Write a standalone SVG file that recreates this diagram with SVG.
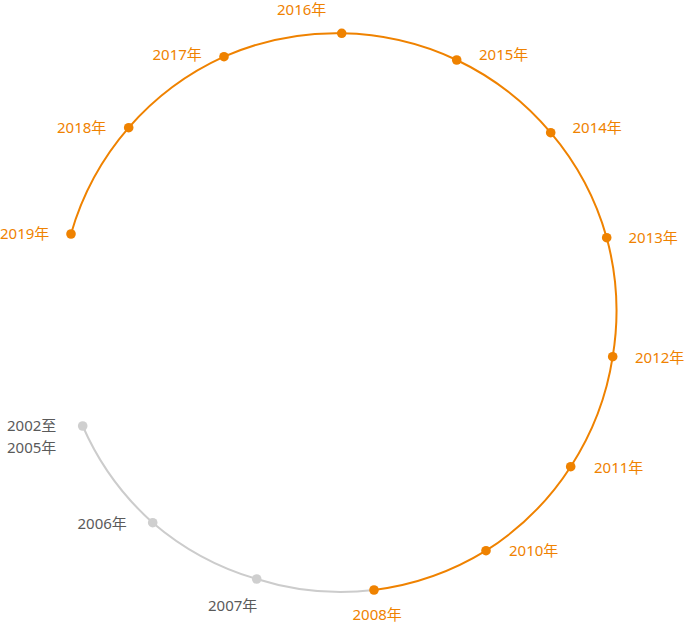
<svg xmlns="http://www.w3.org/2000/svg" width="685" height="624" viewBox="0 0 685 624">
<style>
text{font-family:"Noto Sans","Noto Sans CJK SC",sans-serif;font-size:15px}
.o text{fill:#EF8200}
.g text{fill:#5a5a5a}
.o circle{fill:#EF8200}
.g circle{fill:#CFCFCF}
.lo{fill:none;stroke:#EF8200;stroke-width:2}
.lg{fill:none;stroke:#CCCCCC;stroke-width:2}
</style>
<rect width="685" height="624" fill="#fff"/>
<g id="connectors">
<path class="lo" d="M71 234 A279 279 0 0 1 128.7 127.7 A279 279 0 0 1 224 56.7 A279 279 0 0 1 341.7 33.3 A279 279 0 0 1 456.7 60 A279 279 0 0 1 550.7 132.7 A279 279 0 0 1 606.7 237.7 A279 279 0 0 1 612.7 356.7 A279 279 0 0 1 570.7 466.7 A279 279 0 0 1 486 550.7 A279 279 0 0 1 374 590"/>
<path class="lg" d="M374 590 A279 279 0 0 1 256.7 579 A279 279 0 0 1 152.7 522.7 A279 279 0 0 1 82.7 426"/>
</g>
<g id="n2019" class="o"><circle cx="71" cy="234" r="4.8"/><text x="0" y="239">2019年</text></g>
<g id="n2018" class="o"><circle cx="128.7" cy="127.7" r="4.8"/><text x="57" y="133">2018年</text></g>
<g id="n2017" class="o"><circle cx="224" cy="56.7" r="4.8"/><text x="152.5" y="60">2017年</text></g>
<g id="n2016" class="o"><circle cx="341.7" cy="33.3" r="4.8"/><text x="277" y="14.5">2016年</text></g>
<g id="n2015" class="o"><circle cx="456.7" cy="60" r="4.8"/><text x="479" y="60">2015年</text></g>
<g id="n2014" class="o"><circle cx="550.7" cy="132.7" r="4.8"/><text x="572.5" y="133">2014年</text></g>
<g id="n2013" class="o"><circle cx="606.7" cy="237.7" r="4.8"/><text x="628.5" y="243">2013年</text></g>
<g id="n2012" class="o"><circle cx="612.7" cy="356.7" r="4.8"/><text x="635" y="363">2012年</text></g>
<g id="n2011" class="o"><circle cx="570.7" cy="466.7" r="4.8"/><text x="594" y="472.5">2011年</text></g>
<g id="n2010" class="o"><circle cx="486" cy="550.7" r="4.8"/><text x="509" y="556">2010年</text></g>
<g id="n2008" class="o"><circle cx="374" cy="590" r="4.8"/><text x="352.5" y="619.5">2008年</text></g>
<g id="n2007" class="g"><circle cx="256.7" cy="579" r="4.8"/><text x="208" y="611">2007年</text></g>
<g id="n2006" class="g"><circle cx="152.7" cy="522.7" r="4.8"/><text x="77.5" y="528.5">2006年</text></g>
<g id="n2002" class="g"><circle cx="82.7" cy="426" r="4.8"/><text x="7" y="431">2002至</text><text x="7" y="452.5">2005年</text></g>
</svg>
